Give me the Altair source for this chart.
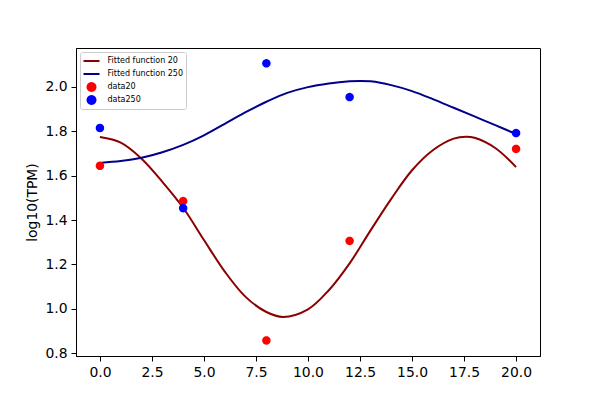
import math
import altair as alt
import pandas as pd

# fitted curves
fit_t = [0, 1, 2, 3, 4, 5, 6, 7, 8, 8.8, 10, 11, 12, 13, 14, 15, 16, 17, 17.6, 18, 19, 20]
fit20 = [1.773, 1.748, 1.676, 1.572, 1.455, 1.310, 1.168, 1.054, 0.986, 0.964, 0.998,
         1.084, 1.205, 1.352, 1.495, 1.624, 1.714, 1.766, 1.775, 1.770, 1.724, 1.638]
fit250_t = [0, 1, 2, 3, 4, 5, 6, 7, 8, 9, 10, 11, 12, 12.5, 13, 14, 15, 16, 17, 18, 19, 20]
fit250 = [1.657, 1.665, 1.680, 1.705, 1.738, 1.781, 1.833, 1.885, 1.932, 1.972, 1.998,
          2.014, 2.024, 2.026, 2.024, 2.007, 1.980, 1.944, 1.905, 1.866, 1.827, 1.787]

# measured data
data_t = [0, 4, 8, 12, 20]
data20 = [1.644, 1.485, 0.858, 1.306, 1.720]
data250 = [1.814, 1.453, 2.105, 1.953, 1.791]

series = ["Fitted function 20", "Fitted function 250", "data20", "data250"]
colors = ["#8B0000", "#00008B", "#ff0000", "#0000ff"]

# polygonal circle symbol (unit coordinates, radius 0.5)
n = 24
circle = "M" + "L".join(
    f"{0.5 * math.cos(2 * math.pi * k / n):.4f},{0.5 * math.sin(2 * math.pi * k / n):.4f}"
    for k in range(n)
) + "Z"
shapes = ["stroke", "stroke", circle, circle]

lines_df = pd.concat([
    pd.DataFrame({"t": fit_t, "v": fit20, "s": series[0]}),
    pd.DataFrame({"t": fit250_t, "v": fit250, "s": series[1]}),
])
pts_df = pd.concat([
    pd.DataFrame({"t": data_t, "v": data20, "s": series[2]}),
    pd.DataFrame({"t": data_t, "v": data250, "s": series[3]}),
])

legend = alt.Legend(
    title=None, orient="top-left", offset=4, padding=2.5, rowPadding=0, clipHeight=13,
    labelFontSize=8, labelFont="DejaVu Sans", labelColor="black", labelOffset=7,
    symbolSize=256, symbolStrokeWidth=2,
    fillColor="white", strokeColor="#cccccc", cornerRadius=2,
)

x_enc = alt.X("t:Q", scale=alt.Scale(domain=[-1.15, 21.15], nice=False, zero=False),
              axis=alt.Axis(values=[0, 2.5, 5, 7.5, 10, 12.5, 15, 17.5, 20], format=".1f",
                            title=None))
y_enc = alt.Y("v:Q", scale=alt.Scale(domain=[0.788, 2.174], nice=False, zero=False),
              axis=alt.Axis(values=[0.8, 1.0, 1.2, 1.4, 1.6, 1.8, 2.0], format=".1f",
                            title="log10(TPM)", titlePadding=5))

stroke_enc = alt.Stroke("s:N", scale=alt.Scale(domain=series, range=colors), legend=legend)

lines = alt.Chart(lines_df).mark_line(interpolate="catmull-rom", strokeWidth=2).encode(
    x=x_enc, y=y_enc, stroke=stroke_enc, detail="s:N"
)

points = alt.Chart(pts_df).mark_point(filled=True, size=196, strokeWidth=1.5, opacity=1).encode(
    x=x_enc, y=y_enc,
    fill=alt.Fill("s:N", scale=alt.Scale(domain=series, range=colors), legend=legend),
    stroke=stroke_enc,
    shape=alt.Shape("s:N", scale=alt.Scale(domain=series, range=shapes), legend=legend),
)

chart = alt.layer(lines, points).properties(
    width=464, height=308, autosize="none",
    padding={"left": 68, "top": 40, "right": 52, "bottom": 36},
).configure_view(stroke="black", strokeWidth=1).configure_axis(
    grid=False, domainColor="black", domainWidth=1, tickColor="black", tickSize=5,
    tickWidth=1, labelFontSize=13.9, labelFont="DejaVu Sans", labelColor="black",
    labelPadding=4, titleFontSize=13.9, titleFont="DejaVu Sans", titleColor="black",
    titleFontWeight="normal",
)

chart.save("out.html", embed_options={"renderer": "svg", "actions": False})
